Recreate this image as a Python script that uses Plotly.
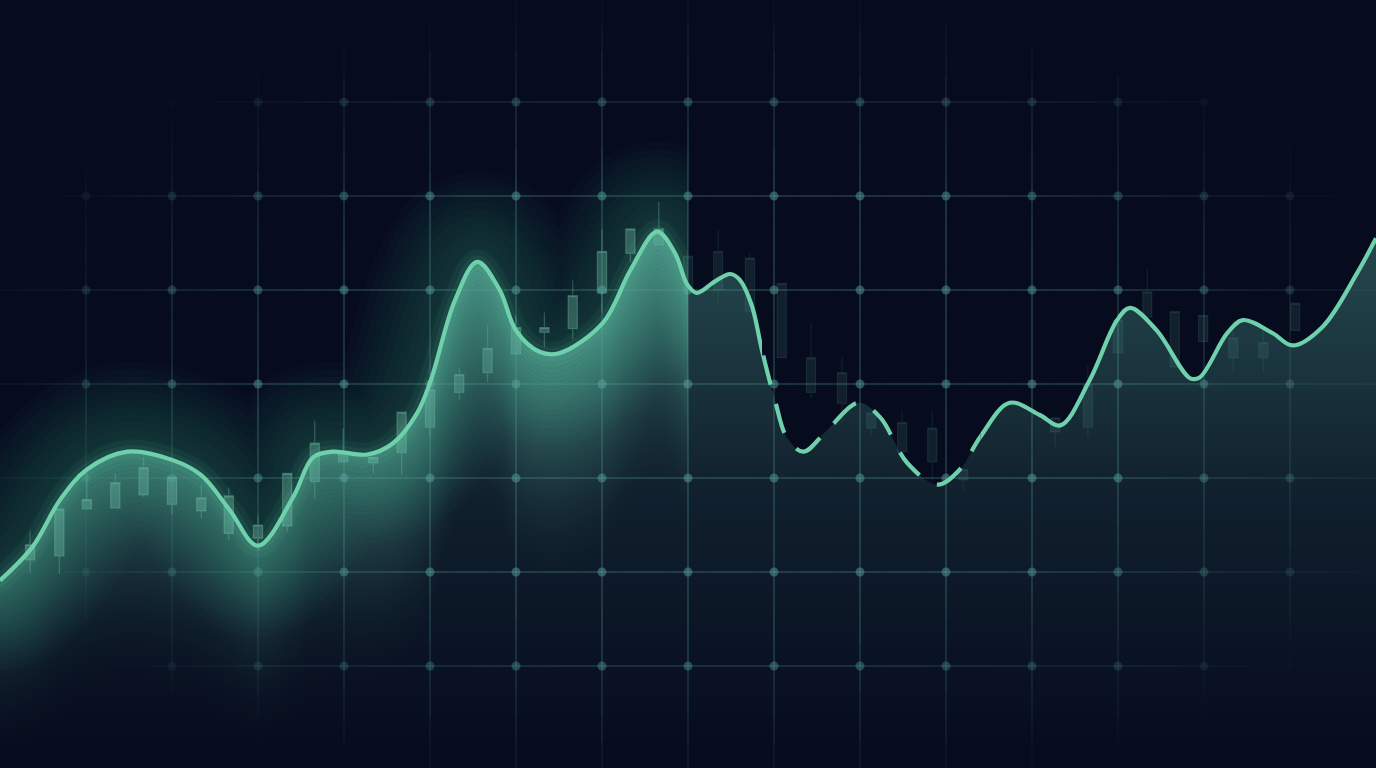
import numpy as np
import plotly.graph_objects as go

BG = '#060b1d'

# ---- data (x in grid units, y in grid units) ----
line_x = [0.00, 0.38, 0.70, 1.01, 1.48, 2.01, 2.34, 2.67, 3.00, 3.41, 3.64, 3.87, 4.27, 4.57,
          4.85, 5.01, 5.29, 5.55, 5.81, 6.00, 6.28, 6.51, 7.01, 7.33, 7.64, 7.85, 7.99, 8.10,
          8.31, 8.49, 8.60, 8.74, 8.86, 9.01, 9.15, 9.34, 9.62, 9.98, 10.23, 10.55, 10.90,
          11.16, 11.40, 11.74, 12.09, 12.33, 12.67, 12.99, 13.14, 13.45, 13.84, 13.95, 14.27,
          14.45, 14.80, 15.03, 15.38, 15.78, 16.00]
line_y = [1.91, 2.27, 2.77, 3.09, 3.28, 3.19, 3.03, 2.66, 2.28, 2.80, 3.22, 3.28, 3.25, 3.37,
          3.69, 4.04, 4.89, 5.30, 5.00, 4.57, 4.34, 4.33, 4.65, 5.21, 5.62, 5.39, 5.06, 4.97,
          5.09, 5.17, 5.11, 4.84, 4.36, 3.83, 3.43, 3.28, 3.51, 3.80, 3.65, 3.16, 2.93,
          3.09, 3.44, 3.80, 3.67, 3.56, 4.04, 4.68, 4.81, 4.57, 4.06, 4.07, 4.54,
          4.68, 4.54, 4.41, 4.61, 5.18, 5.55]
assert len(line_x) == len(line_y)

# candles: x, open, close, high, low
c_x = [0.35, 0.69, 1.01, 1.34, 1.67, 2.00, 2.34, 2.66, 3.00, 3.34, 3.66, 3.99, 4.34, 4.67,
       5.00, 5.34, 5.67, 6.00, 6.33, 6.66, 7.00, 7.33, 7.66,
       8.00, 8.35, 8.72, 9.09, 9.43, 9.79, 10.13, 10.49, 10.84, 11.20, 12.27, 12.65, 13.00,
       13.34, 13.66, 13.99, 14.34, 14.69, 15.06]
c_open = [2.13, 2.17, 2.67, 2.68, 2.82, 2.72, 2.65, 2.41, 2.36, 2.49, 2.96, 3.17, 3.16, 3.27,
          3.54, 3.91, 4.12, 4.32, 4.55, 4.59, 4.97, 5.39, 5.48,
          5.03, 5.00, 4.77, 4.28, 3.91, 3.79, 3.53, 3.28, 3.17, 2.98, 3.49, 3.54, 4.33,
          4.71, 4.18, 4.45, 4.28, 4.28, 4.57]
c_close = [2.29, 2.67, 2.77, 2.95, 3.11, 3.01, 2.79, 2.81, 2.50, 3.05, 3.37, 3.27, 3.22, 3.70,
           3.94, 4.10, 4.38, 4.60, 4.60, 4.94, 5.41, 5.65, 5.65,
           5.36, 5.41, 5.34, 5.07, 4.28, 4.12, 3.69, 3.59, 3.53, 3.09, 3.64, 3.99, 4.68,
           4.98, 4.77, 4.73, 4.49, 4.44, 4.86]
c_high = [2.43, 2.67, 3.05, 3.05, 3.22, 3.01, 2.93, 2.90, 2.60, 3.05, 3.61, 3.53, 3.22, 3.70,
          3.94, 4.17, 4.63, 4.73, 4.76, 5.10, 5.65, 5.65, 5.94,
          5.36, 5.64, 5.40, 5.07, 4.66, 4.29, 3.69, 3.70, 3.70, 3.09, 3.64, 4.20, 4.68,
          5.23, 4.77, 4.73, 4.68, 4.57, 4.86]
c_low = [1.99, 1.98, 2.67, 2.68, 2.80, 2.61, 2.57, 2.34, 2.23, 2.43, 2.78, 3.16, 3.05, 3.03,
         3.43, 3.83, 4.02, 4.30, 4.39, 4.47, 4.76, 5.30, 5.48,
         5.03, 4.86, 4.77, 4.28, 3.85, 3.59, 3.46, 3.17, 2.98, 2.87, 3.33, 3.43, 4.33,
         4.71, 4.18, 4.45, 4.12, 4.13, 4.57]

grid_x = list(range(1, 16))
grid_y = list(range(1, 8))

X_RANGE = [0, 16]
Y_RANGE = [-0.085, 8.085]
GLOW_END = 8.0      # bright glow clipped here
DASH_START = 8.86   # dashed part of the line
DASH_END = 11.40

LINE_C = '#6fd0ac'

lx = np.array(line_x)
ly = np.array(line_y)

fig = go.Figure()
SPL = dict(shape='spline', smoothing=1)
GC = '88,182,156'

# ---------- glow layer (subplot xy, clipped at x = 8) ----------
# soft isotropic halo around the curve
for w in range(180, 0, -15):
    fig.add_trace(go.Scatter(x=lx, y=ly, mode='lines',
                             line=dict(width=w, color='rgba(90,185,160,0.026)', **SPL),
                             xaxis='x', yaxis='y', hoverinfo='skip'))

# bright glow below the curve: thin stacked bands, brighter where the curve is higher
N, STEP = 50, 0.05
fig.add_trace(go.Scatter(x=lx, y=ly, mode='lines', line=dict(width=0, **SPL),
                         xaxis='x', yaxis='y', hoverinfo='skip'))
for k in range(N):
    a = 0.86 * (1 - k / N) ** 1.6
    fig.add_trace(go.Scatter(
        x=lx, y=ly - (k + 1) * STEP, mode='lines', line=dict(width=0, **SPL),
        fill='tonexty',
        fillgradient=dict(type='vertical', start=0, stop=5.6,
                          colorscale=[[0, f'rgba({GC},0)'],
                                      [0.35, f'rgba({GC},{0.45 * a:.4f})'],
                                      [1, f'rgba({GC},{a:.4f})']]),
        xaxis='x', yaxis='y', hoverinfo='skip'))

for w, a in [(24, 0.06), (13, 0.08)]:
    fig.add_trace(go.Scatter(x=lx, y=ly, mode='lines',
                             line=dict(width=w, color=f'rgba(100,200,170,{a})', **SPL),
                             xaxis='x', yaxis='y', hoverinfo='skip'))

# ---------- main layer (subplot x2y) ----------
fig.add_trace(go.Scatter(x=lx, y=ly, mode='lines', line=dict(width=0, **SPL),
                         fill='tozeroy',
                         fillgradient=dict(type='vertical', start=0, stop=5.6,
                                           colorscale=[[0, 'rgba(70,140,130,0.0)'],
                                                       [0.5, 'rgba(70,140,130,0.16)'],
                                                       [1, 'rgba(70,140,130,0.48)']]),
                         xaxis='x2', yaxis='y', hoverinfo='skip'))


# grid with vignette fade
def fade(xv, yv):
    px = xv * 86.0
    py = 760 - 94.0 * yv
    dx = (px - 700) / 760.0
    dy = (py - 400) / 420.0
    dist = np.sqrt(dx * dx + dy * dy)
    return float(np.clip((1.02 - dist) / 0.45, 0, 1))


LEVELS = 12
seg_bins = {i: ([], []) for i in range(1, LEVELS + 1)}
xs_edges = [X_RANGE[0]] + grid_x + [X_RANGE[1]]
ys_edges = [Y_RANGE[0]] + grid_y + [Y_RANGE[1]]
SUB = 4
for gx in grid_x:
    for i in range(len(ys_edges) - 1):
        y0, y1 = ys_edges[i], ys_edges[i + 1]
        for s in range(SUB):
            a0 = y0 + (y1 - y0) * s / SUB
            a1 = y0 + (y1 - y0) * (s + 1) / SUB
            f = fade(gx, (a0 + a1) / 2)
            lvl = int(round(f * LEVELS))
            if lvl > 0:
                seg_bins[lvl][0].extend([gx, gx, None])
                seg_bins[lvl][1].extend([a0, a1, None])
for gy in grid_y:
    for i in range(len(xs_edges) - 1):
        x0, x1 = xs_edges[i], xs_edges[i + 1]
        for s in range(SUB):
            a0 = x0 + (x1 - x0) * s / SUB
            a1 = x0 + (x1 - x0) * (s + 1) / SUB
            f = fade((a0 + a1) / 2, gy)
            lvl = int(round(f * LEVELS))
            if lvl > 0:
                seg_bins[lvl][0].extend([a0, a1, None])
                seg_bins[lvl][1].extend([gy, gy, None])
for lvl, (sx, sy) in seg_bins.items():
    if sx:
        fig.add_trace(go.Scatter(x=sx, y=sy, mode='lines',
                                 line=dict(width=1.5, color=f'rgba(90,160,160,{0.34 * lvl / LEVELS:.3f})'),
                                 xaxis='x2', yaxis='y', hoverinfo='skip'))

dot_x, dot_y, dot_c = [], [], []
for gx in grid_x:
    for gy in grid_y:
        f = fade(gx, gy)
        if f > 0.02:
            dot_x.append(gx)
            dot_y.append(gy)
            dot_c.append(f'rgba(90,170,165,{0.45 * f:.3f})')
fig.add_trace(go.Scatter(x=dot_x, y=dot_y, mode='markers',
                         marker=dict(size=9, color=dot_c, line=dict(width=0)),
                         xaxis='x2', yaxis='y', hoverinfo='skip'))


# candles (left bright group, right faint group)
def candle_trace(idx, col):
    return go.Candlestick(
        x=[c_x[i] for i in idx], open=[c_open[i] for i in idx], close=[c_close[i] for i in idx],
        high=[c_high[i] for i in idx], low=[c_low[i] for i in idx],
        increasing=dict(line=dict(color=col, width=1.2), fillcolor=col),
        decreasing=dict(line=dict(color=col, width=1.2), fillcolor=col),
        whiskerwidth=0, xaxis='x2', yaxis='y', hoverinfo='skip')


left_idx = [i for i, v in enumerate(c_x) if v < GLOW_END - 0.05]
right_idx = [i for i, v in enumerate(c_x) if v >= GLOW_END - 0.05]
fig.add_trace(candle_trace(left_idx, 'rgba(140,225,195,0.28)'))
fig.add_trace(candle_trace(right_idx, 'rgba(110,190,175,0.12)'))

# ---------- the line: solid / dashed / solid ----------
for ax, dash in [('x3', 'solid'), ('x4', 'solid'), ('x5', '30px,20px')]:
    fig.add_trace(go.Scatter(x=lx, y=ly, mode='lines',
                             line=dict(width=4.2, color=LINE_C, dash=dash, **SPL),
                             xaxis=ax, yaxis='y', hoverinfo='skip'))

W = X_RANGE[1] - X_RANGE[0]
ax_common = dict(visible=False, fixedrange=True, showgrid=False, zeroline=False,
                 rangeslider=dict(visible=False), anchor='y')
fig.update_layout(
    width=1376, height=768,
    margin=dict(l=0, r=0, t=0, b=0),
    paper_bgcolor=BG, plot_bgcolor='rgba(0,0,0,0)',
    showlegend=False,
    boxgap=0.52,
    xaxis=dict(domain=[0, GLOW_END / W], range=[0, GLOW_END], **ax_common),
    xaxis2=dict(domain=[0, 1], range=X_RANGE, **ax_common),
    xaxis3=dict(domain=[0, DASH_START / W], range=[0, DASH_START], **ax_common),
    xaxis4=dict(domain=[DASH_END / W, 1], range=[DASH_END, X_RANGE[1]], **ax_common),
    xaxis5=dict(domain=[DASH_START / W, DASH_END / W], range=[DASH_START, DASH_END], **ax_common),
    yaxis=dict(domain=[0, 1], range=Y_RANGE, visible=False, fixedrange=True,
               showgrid=False, zeroline=False),
)

POST = ("document.body.style.margin='0';document.body.style.overflow='hidden';"
        "document.body.style.background='#060b1d';"
        "var st=document.createElement('style');"
        "st.textContent='.subplot.xy .js-line{stroke-linecap:round;stroke-linejoin:round}';"
        "document.head.appendChild(st);")

fig.write_html('out.html', config=dict(displayModeBar=False, staticPlot=True), post_script=POST)
